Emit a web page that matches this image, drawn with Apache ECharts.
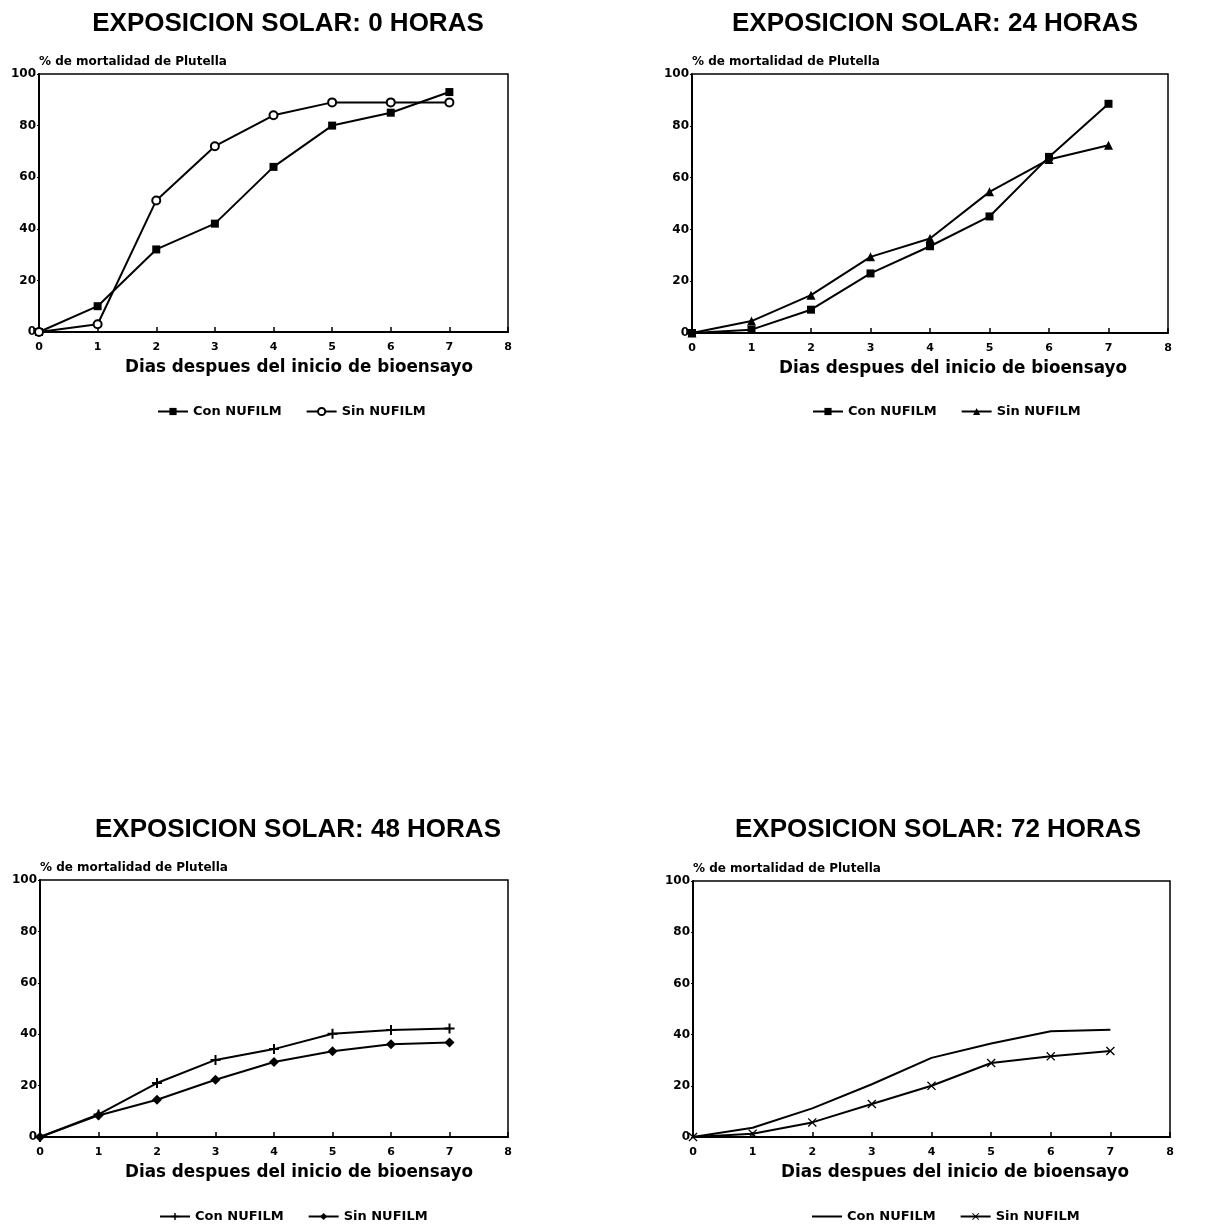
<!DOCTYPE html>
<html><head><meta charset="utf-8">
<script src="https://cdn.jsdelivr.net/npm/echarts@6/dist/echarts.min.js"></script>
<style>html,body{margin:0;padding:0;background:#fff}#c{width:1211px;height:1226px}</style>
</head><body><div id="c"></div>
<script>
const days = [0,1,2,3,4,5,6,7];
const yTicks = [0,20,40,60,80,100];
const titles = ['EXPOSICION SOLAR: 0 HORAS','EXPOSICION SOLAR: 24 HORAS','EXPOSICION SOLAR: 48 HORAS','EXPOSICION SOLAR: 72 HORAS'];
const seriesNames = ['Con NUFILM','Sin NUFILM'];
const con0h  = [0, 10, 32, 42, 64, 80, 85, 93];
const sin0h  = [0, 3, 51, 72, 84, 89, 89, 89];
const con24h = [0, 1.3, 9, 23, 33.5, 45, 68, 88.5];
const sin24h = [0, 4.6, 14.6, 29.4, 36.5, 54.5, 67, 72.5];
const con48h = [0, 8.8, 21, 30, 34.2, 40.2, 41.6, 42.2];
const sin48h = [0, 8.4, 14.5, 22.3, 29.2, 33.4, 36.1, 36.8];
const con72h = [0, 3.6, 11.2, 20.6, 30.9, 36.5, 41.3, 41.9];
const sin72h = [0, 1.3, 5.7, 12.9, 20, 28.9, 31.5, 33.6];
const yName = '% de mortalidad de Plutella';
const xName = 'Dias despues del inicio de bioensayo';

const FONT = '"Liberation Sans", Arial, sans-serif';
const WIDE = '"DejaVu Sans", sans-serif';
const grids = [
  {left:39, top:74, width:469, height:258},
  {left:692, top:74, width:476, height:259},
  {left:40, top:880, width:468, height:257},
  {left:693, top:881, width:477, height:256}
];
const titlePos = [[283,20],[930,20],[293,826],[933,826]];
const xNamePos = [299,953,299,955];
const legendPos = [[152,400],[807,400],[154,1205],[807,1205]];
const PLUS = 'path://M4,0H6V4H10V6H6V10H4V6H0V4H4Z';
const XSYM = 'path://M1,0L5,4L9,0L10,1L6,5L10,9L9,10L5,6L1,10L0,9L4,5L0,1Z';
const LINEICON = 'path://M0,0H0.01V0.01H0ZM0,3.5H30V5.5H0ZM0,8.99H0.01V9H0Z';
const pairs = [[con0h,sin0h],[con24h,sin24h],[con48h,sin48h],[con72h,sin72h]];
const syms = [
  [{s:'rect',size:8,fill:'#000'},{s:'circle',size:8,fill:'#fff'}],
  [{s:'rect',size:8,fill:'#000'},{s:'triangle',size:9,fill:'#000'}],
  [{s:PLUS,size:10,fill:'#000'},{s:'diamond',size:10,fill:'#000'}],
  [{s:'none',size:0,fill:'#000'},{s:XSYM,size:9,fill:'#000'}]
];
const mk = (arr) => days.map((d,i)=>[d,arr[i]]);
const tag = (n,i) => n + '\u200b'.repeat(i);

const option = {
  animation:false,
  backgroundColor:'#fff',
  title: grids.map((g,i)=>({
    text:titles[i], left:titlePos[i][0], top:titlePos[i][1]-14, textAlign:'center',
    textStyle:{fontFamily:FONT,fontSize:26,fontWeight:'bold',color:'#000'}
  })),
  grid: grids.map(g=>Object.assign({show:true,borderColor:'#000',borderWidth:1.5,containLabel:false},g)),
  xAxis: grids.map((g,i)=>({
    type:'value', gridIndex:i, min:0, max:8, interval:1,
    axisLine:{show:true,onZero:false,lineStyle:{color:'#000',width:2}},
    axisTick:{show:true,inside:true,length:5,lineStyle:{color:'#000',width:1.5}},
    axisLabel:{color:'#000',fontFamily:WIDE,fontWeight:'bold',fontSize:11,margin:10,
      showMinLabel:true,showMaxLabel:true},
    splitLine:{show:false}
  })),
  yAxis: grids.map((g,i)=>({
    type:'value', gridIndex:i, min:0, max:100, interval:20,
    name:yName, nameLocation:'end', nameGap:6,
    nameTextStyle:{color:'#000',fontFamily:WIDE,fontWeight:'bold',fontSize:12,align:'left'},
    axisLine:{show:true,lineStyle:{color:'#000',width:2}},
    axisTick:{show:true,inside:false,length:2,lineStyle:{color:'#000',width:1}},
    axisLabel:{color:'#000',fontFamily:WIDE,fontWeight:'bold',fontSize:12,margin:3},
    splitLine:{show:false}
  })),
  legend: grids.map((g,i)=>({
    data:[
      i===3 ? {name:tag(seriesNames[0],i), icon:LINEICON} : {name:tag(seriesNames[0],i)},
      {name:tag(seriesNames[1],i)}
    ],
    left:legendPos[i][0], top:legendPos[i][1], itemGap:24, itemWidth:30, itemHeight:9,
    textStyle:{color:'#000',fontFamily:WIDE,fontWeight:'bold',fontSize:13},
    formatter:(n)=>n.replace(/\u200b/g,'')
  })),
  graphic: grids.map((g,i)=>({
    type:'text', x:xNamePos[i], y:g.top+g.height+27,
    style:{text:xName,fontFamily:WIDE,fontSize:16.8,fontWeight:'bold',fill:'#000',textAlign:'center'}
  })),
  series: []
};
pairs.forEach((p,i)=>{
  p.forEach((arr,k)=>{
    const sy = syms[i][k];
    option.series.push({
      type:'line', name:tag(seriesNames[k],i), xAxisIndex:i, yAxisIndex:i,
      data:mk(arr), symbol:sy.s, symbolSize:sy.size, showSymbol:sy.s!=='none',
      lineStyle:{color:'#000',width:2},
      itemStyle:{color:sy.fill,borderColor:'#000',borderWidth:sy.fill==='#fff'?2:0},
      emphasis:{disabled:true}
    });
  });
});
const chart = echarts.init(document.getElementById('c'),null,{renderer:'canvas'});
chart.setOption(option);
</script></body></html>
